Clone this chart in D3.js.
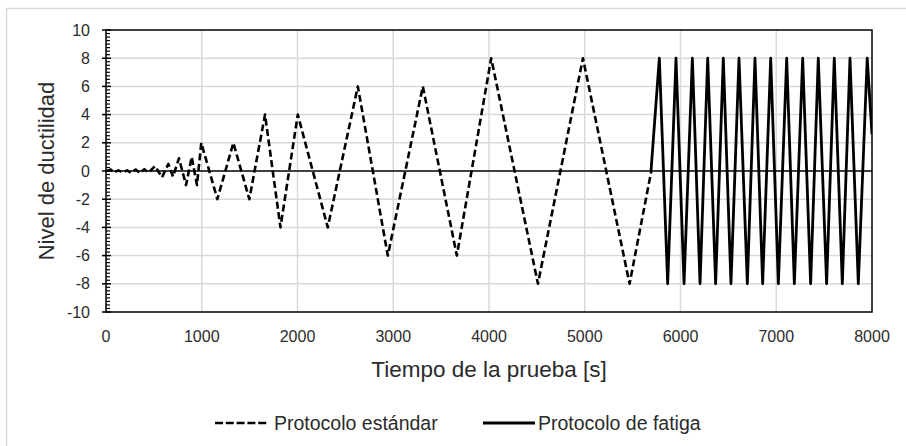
<!DOCTYPE html>
<html><head><meta charset="utf-8">
<script src="https://cdn.jsdelivr.net/npm/d3@7"></script>
<style>body{margin:0;background:#fff;} text{font-family:"Liberation Sans",Arial,sans-serif;fill:#2b2b2b;}</style>
</head><body>
<svg id="chart" width="906" height="446"></svg>
<script>
// Data
const standardTime = [0,50,85,130,175,220,260,310,355,400,445,512,585,651,700,762,836,895,950,995,1163,1330,1497,1661,1822,2003,2316,2630,2943,3309,3664,4023,4511,4981,5468,5695];
const standardLevel = [0,0.1,-0.1,0.05,-0.1,0.05,-0.12,0.1,-0.15,0.12,-0.12,0.35,-0.45,0.5,-0.4,0.9,-1,1,-1,2,-2,2,-2,4,-4,4,-4,6,-6,6,-6,8,-8,8,-8,0];
const fatigueTime = [5692,5779,5866,5953,6037,6124,6204,6284,6367,6447,6527,6611,6698,6778,6858,6942,7022,7109,7189,7276,7359,7439,7526,7606,7690,7770,7857,7950,8000];
const fatigueLevel = [0,8,-8,8,-8,8,-8,8,-8,8,-8,8,-8,8,-8,8,-8,8,-8,8,-8,8,-8,8,-8,8,-8,8,2.6];
const xTicks = [0,1000,2000,3000,4000,5000,6000,7000,8000];
const yTicks = [10,8,6,4,2,0,-2,-4,-6,-8,-10];
const seriesNames = ["Protocolo estándar","Protocolo de fatiga"];
const xTitle = "Tiempo de la prueba [s]";
const yTitle = "Nivel de ductilidad";

const svg = d3.select("#chart");
const L=106, R=872, T=30, B=312;
const x = d3.scaleLinear().domain([0,8000]).range([L,R]);
const y = d3.scaleLinear().domain([-10,10]).range([B,T]);

// outer chart frame
svg.append("rect").attr("x",6.5).attr("y",8.5).attr("width",1000).attr("height",1000)
  .attr("fill","none").attr("stroke","#d9d9d9").attr("stroke-width",1.5);

// gridlines
svg.append("g").selectAll("line").data(xTicks.filter(d=>d>0&&d<8000)).join("line")
  .attr("x1",d=>x(d)).attr("x2",d=>x(d)).attr("y1",T).attr("y2",B)
  .attr("stroke","#d9d9d9").attr("stroke-width",1.5);
svg.append("g").selectAll("line").data(yTicks.filter(d=>d!==0&&d!==10&&d!==-10)).join("line")
  .attr("x1",L).attr("x2",R).attr("y1",d=>y(d)).attr("y2",d=>y(d))
  .attr("stroke","#d9d9d9").attr("stroke-width",1.5);

// series
const lineGen = d3.line().x(d=>x(d[0])).y(d=>y(d[1]));
const stdData = standardTime.map((t,i)=>[t,standardLevel[i]]);
const fatData = fatigueTime.map((t,i)=>[t,fatigueLevel[i]]);
svg.append("defs").append("clipPath").attr("id","clip").append("rect")
  .attr("x",L).attr("y",T-6).attr("width",R-L).attr("height",B-T+12);
const plot = svg.append("g").attr("clip-path","url(#clip)");
plot.append("path").datum(stdData).attr("d",lineGen).attr("fill","none")
  .attr("stroke","#000").attr("stroke-width",2.6).attr("stroke-dasharray","7,3.5").attr("stroke-linejoin","round");
plot.append("path").datum(fatData).attr("d",lineGen).attr("fill","none")
  .attr("stroke","#000").attr("stroke-width",2.8).attr("stroke-linejoin","round");

// zero axis line
svg.append("line").attr("x1",L).attr("x2",R).attr("y1",y(0)).attr("y2",y(0))
  .attr("stroke","#000").attr("stroke-width",1.5);

// plot frame
svg.append("rect").attr("x",L).attr("y",T).attr("width",R-L).attr("height",B-T)
  .attr("fill","none").attr("stroke","#000").attr("stroke-width",1.5);

// y axis with minor ticks
const yMinor = d3.range(-10,10.001,0.25).filter(v=>Math.abs(v/2-Math.round(v/2))>1e-6);
svg.append("g").selectAll("line").data(yMinor).join("line")
  .attr("x1",L).attr("x2",L+4).attr("y1",d=>y(d)).attr("y2",d=>y(d))
  .attr("stroke","#000").attr("stroke-width",1.2);
svg.append("g").selectAll("line").data(yTicks).join("line")
  .attr("x1",L-4).attr("x2",L+5).attr("y1",d=>y(d)).attr("y2",d=>y(d))
  .attr("stroke","#000").attr("stroke-width",1.5);
svg.append("g").selectAll("text").data(yTicks).join("text")
  .attr("x",90).attr("y",d=>y(d)).attr("dy","0.35em").attr("text-anchor","end")
  .attr("font-size",16).text(d=>d);

// x labels
svg.append("g").selectAll("text").data(xTicks).join("text")
  .attr("x",d=>x(d)).attr("y",342).attr("text-anchor","middle")
  .attr("font-size",16).text(d=>d);

// titles
svg.append("text").attr("x",(L+R)/2).attr("y",377).attr("text-anchor","middle")
  .attr("font-size",22.5).text(xTitle);
svg.append("text").attr("transform",`translate(54,${(T+B)/2}) rotate(-90)`)
  .attr("text-anchor","middle").attr("font-size",22).text(yTitle);

// legend
const leg = svg.append("g");
leg.append("line").attr("x1",215).attr("x2",269).attr("y1",423).attr("y2",423)
  .attr("stroke","#000").attr("stroke-width",2.6).attr("stroke-dasharray","8,2.8");
leg.append("text").attr("x",274).attr("y",423).attr("dy","0.35em").attr("font-size",19.5).text(seriesNames[0]);
leg.append("line").attr("x1",483).attr("x2",535).attr("y1",423).attr("y2",423)
  .attr("stroke","#000").attr("stroke-width",2.8);
leg.append("text").attr("x",538).attr("y",423).attr("dy","0.35em").attr("font-size",19.5).text(seriesNames[1]);
</script>
</body></html>
